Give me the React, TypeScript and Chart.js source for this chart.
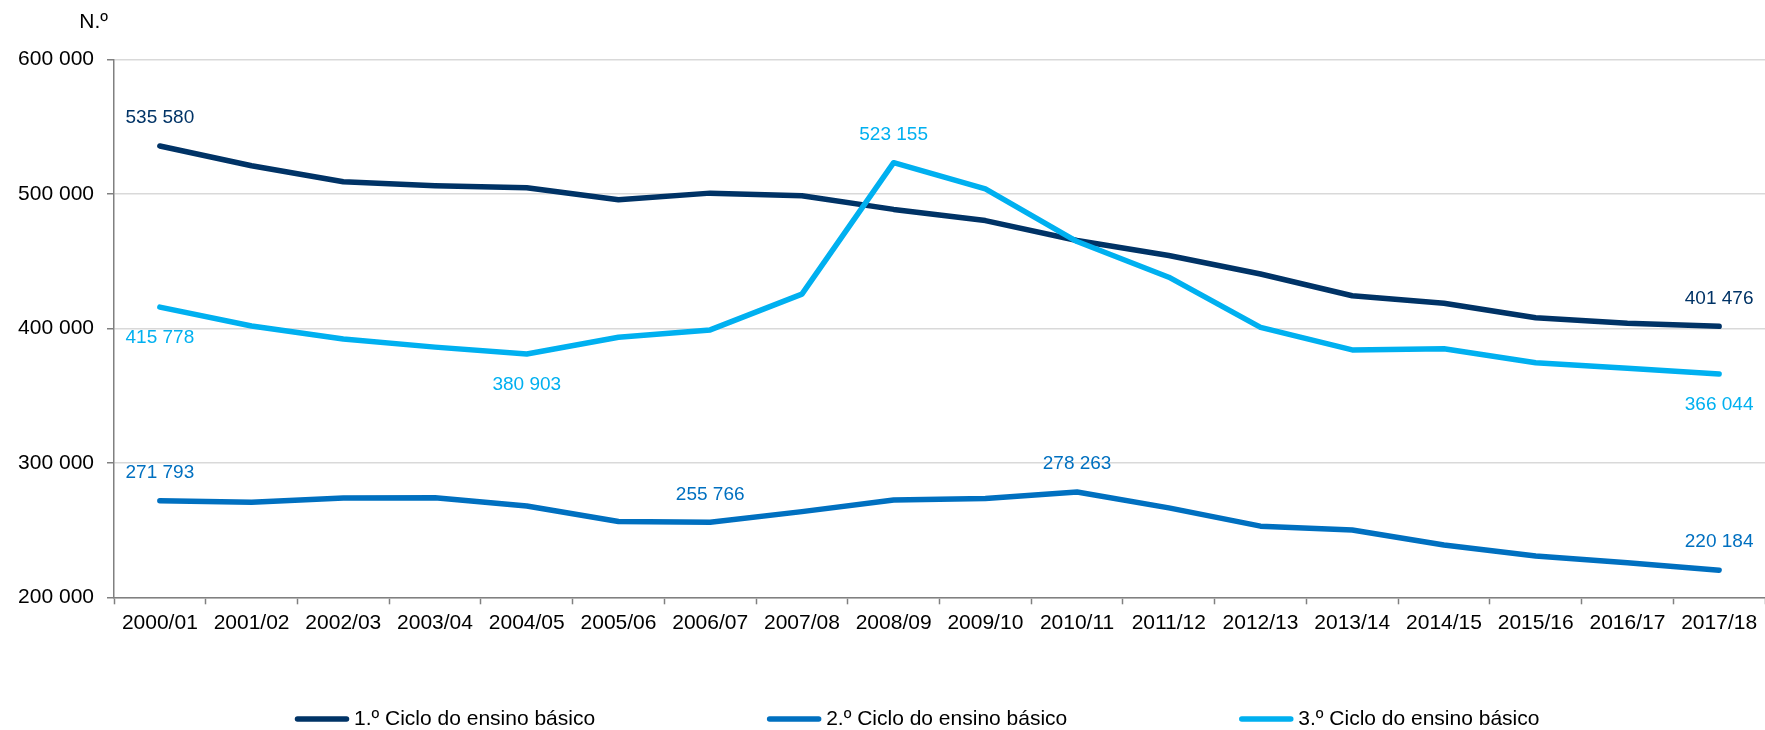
import React, { useEffect, useRef } from 'react';
import { Chart, registerables } from 'chart.js';

Chart.register(...registerables);

const categories = [
  '2000/01', '2001/02', '2002/03', '2003/04', '2004/05', '2005/06', '2006/07', '2007/08', '2008/09',
  '2009/10', '2010/11', '2011/12', '2012/13', '2013/14', '2014/15', '2015/16', '2016/17', '2017/18',
];

const ciclo1 = [
  535580, 520900, 509000, 506000, 504500, 495600, 500500, 498500, 488400,
  480100, 465300, 454100, 440400, 424200, 418600, 407900, 403700, 401476,
];
const ciclo2 = [
  271793, 270600, 273800, 274000, 267900, 256300, 255766, 263700, 272300,
  273400, 278263, 266500, 252900, 250000, 238900, 230700, 225700, 220184,
];
const ciclo3 = [
  415778, 401700, 392000, 386000, 380903, 393300, 398800, 425400, 523155,
  503700, 464500, 438000, 400700, 383900, 384800, 374400, 370300, 366044,
];

const seriesNames = ['1.º Ciclo do ensino básico', '2.º Ciclo do ensino básico', '3.º Ciclo do ensino básico'];
const seriesColors = ['#003366', '#0070C0', '#00B0F0'];

// which points carry a value label, and on which side of the line
const labelIdx1 = [0, 17];
const labelSide1 = ['above', 'above'];
const labelIdx2 = [0, 6, 10, 17];
const labelSide2 = ['above', 'above', 'above', 'above'];
const labelIdx3 = [0, 4, 8, 17];
const labelSide3 = ['below', 'below', 'above', 'below'];

const yMin = 200000;
const yMax = 600000;
const yStep = 100000;
const yUnit = 'N.º';

const FONT = '"Liberation Sans", Arial, Helvetica, sans-serif';

const fmt = (v: number) => String(Math.round(v)).replace(/\B(?=(\d{3})+(?!\d))/g, ' ');

const valueLabelPlugin = {
  id: 'valueLabels',
  afterDatasetsDraw(chart: any) {
    const ctx = chart.ctx;
    ctx.save();
    ctx.font = `19px ${FONT}`;
    ctx.textAlign = 'center';
    ctx.textBaseline = 'middle';
    chart.data.datasets.forEach((ds: any, di: number) => {
      const meta = chart.getDatasetMeta(di);
      const idxs: number[] = ds.labelIdx || [];
      const sides: string[] = ds.labelSide || [];
      ctx.fillStyle = ds.borderColor;
      idxs.forEach((idx, k) => {
        const el = meta.data[idx];
        if (!el) return;
        const dy = sides[k] === 'above' ? -28 : 30.7;
        ctx.fillText(fmt(ds.data[idx]), el.x, el.y + dy);
      });
    });
    ctx.restore();
  },
};

const extrasPlugin = {
  id: 'extras',
  afterDraw(chart: any) {
    const ctx = chart.ctx;
    ctx.save();
    // unit label above the y axis
    ctx.font = `21px ${FONT}`;
    ctx.fillStyle = '#000';
    ctx.textAlign = 'right';
    ctx.textBaseline = 'middle';
    ctx.fillText(yUnit, chart.chartArea.left - 6, 22);

    // legend
    ctx.font = `21px ${FONT}`;
    ctx.textAlign = 'left';
    const y = 719;
    let x = 295;
    const lineLen = 54;
    const gap = 172;
    chart.data.datasets.forEach((ds: any) => {
      ctx.strokeStyle = ds.borderColor;
      ctx.lineWidth = 5.5;
      ctx.lineCap = 'round';
      ctx.beginPath();
      ctx.moveTo(x + 2.5, y);
      ctx.lineTo(x + lineLen - 2.5, y);
      ctx.stroke();
      ctx.fillStyle = '#000';
      ctx.fillText(ds.label, x + lineLen + 5, y);
      const w = ctx.measureText(ds.label).width;
      x += lineLen + 5 + w + gap;
    });
    ctx.restore();
  },
};

export default function App() {
  const ref = useRef<HTMLCanvasElement | null>(null);

  useEffect(() => {
    if (!ref.current) return;
    const seriesData = [ciclo1, ciclo2, ciclo3];
    const idxs = [labelIdx1, labelIdx2, labelIdx3];
    const sides = [labelSide1, labelSide2, labelSide3];
    const chart = new Chart(ref.current, {
      type: 'line',
      data: {
        labels: categories,
        datasets: seriesData.map((d, i) => ({
          label: seriesNames[i],
          data: d,
          borderColor: seriesColors[i],
          backgroundColor: seriesColors[i],
          borderWidth: 5.5,
          borderCapStyle: 'round',
          borderJoinStyle: 'round',
          pointRadius: 0,
          pointHoverRadius: 0,
          tension: 0,
          fill: false,
          order: 3 - i,
          labelIdx: idxs[i],
          labelSide: sides[i],
        })) as any,
      },
      options: {
        responsive: false,
        animation: false,
        devicePixelRatio: 1,
        layout: { padding: { top: 59.3, left: 0, right: 0, bottom: 72.7 } },
        plugins: {
          legend: { display: false },
          tooltip: { enabled: false },
          title: { display: false },
        },
        scales: {
          x: {
            type: 'category',
            offset: true,
            grid: {
              display: true,
              drawOnChartArea: false,
              drawTicks: true,
              tickLength: 7,
              tickColor: '#808080',
              tickWidth: 1.5,
              offset: true,
            },
            border: { display: true, color: '#808080', width: 1.5 },
            ticks: {
              font: { family: FONT, size: 21 },
              color: '#000',
              padding: 6,
              maxRotation: 0,
              minRotation: 0,
              autoSkip: false,
            },
            afterFit(scale: any) {
              scale.height = 60;
            },
          },
          y: {
            min: yMin,
            max: yMax,
            grid: {
              color: '#d9d9d9',
              lineWidth: 1.5,
              drawTicks: true,
              tickLength: 7,
              tickColor: '#808080',
              tickWidth: 1.5,
            },
            border: { display: true, color: '#808080', width: 1.5 },
            ticks: {
              stepSize: yStep,
              font: { family: FONT, size: 21 },
              color: '#000',
              padding: 13,
              callback: (v: any) => fmt(Number(v)),
            },
            afterFit(scale: any) {
              scale.width = 114;
            },
          },
        },
      },
      plugins: [valueLabelPlugin, extrasPlugin],
    });
    return () => chart.destroy();
  }, []);

  return (
    <div style={{ position: 'absolute', left: 0, top: 0, width: 1765, height: 730, background: '#fff' }}>
      <canvas ref={ref} width={1765} height={730} style={{ display: 'block' }} />
    </div>
  );
}
